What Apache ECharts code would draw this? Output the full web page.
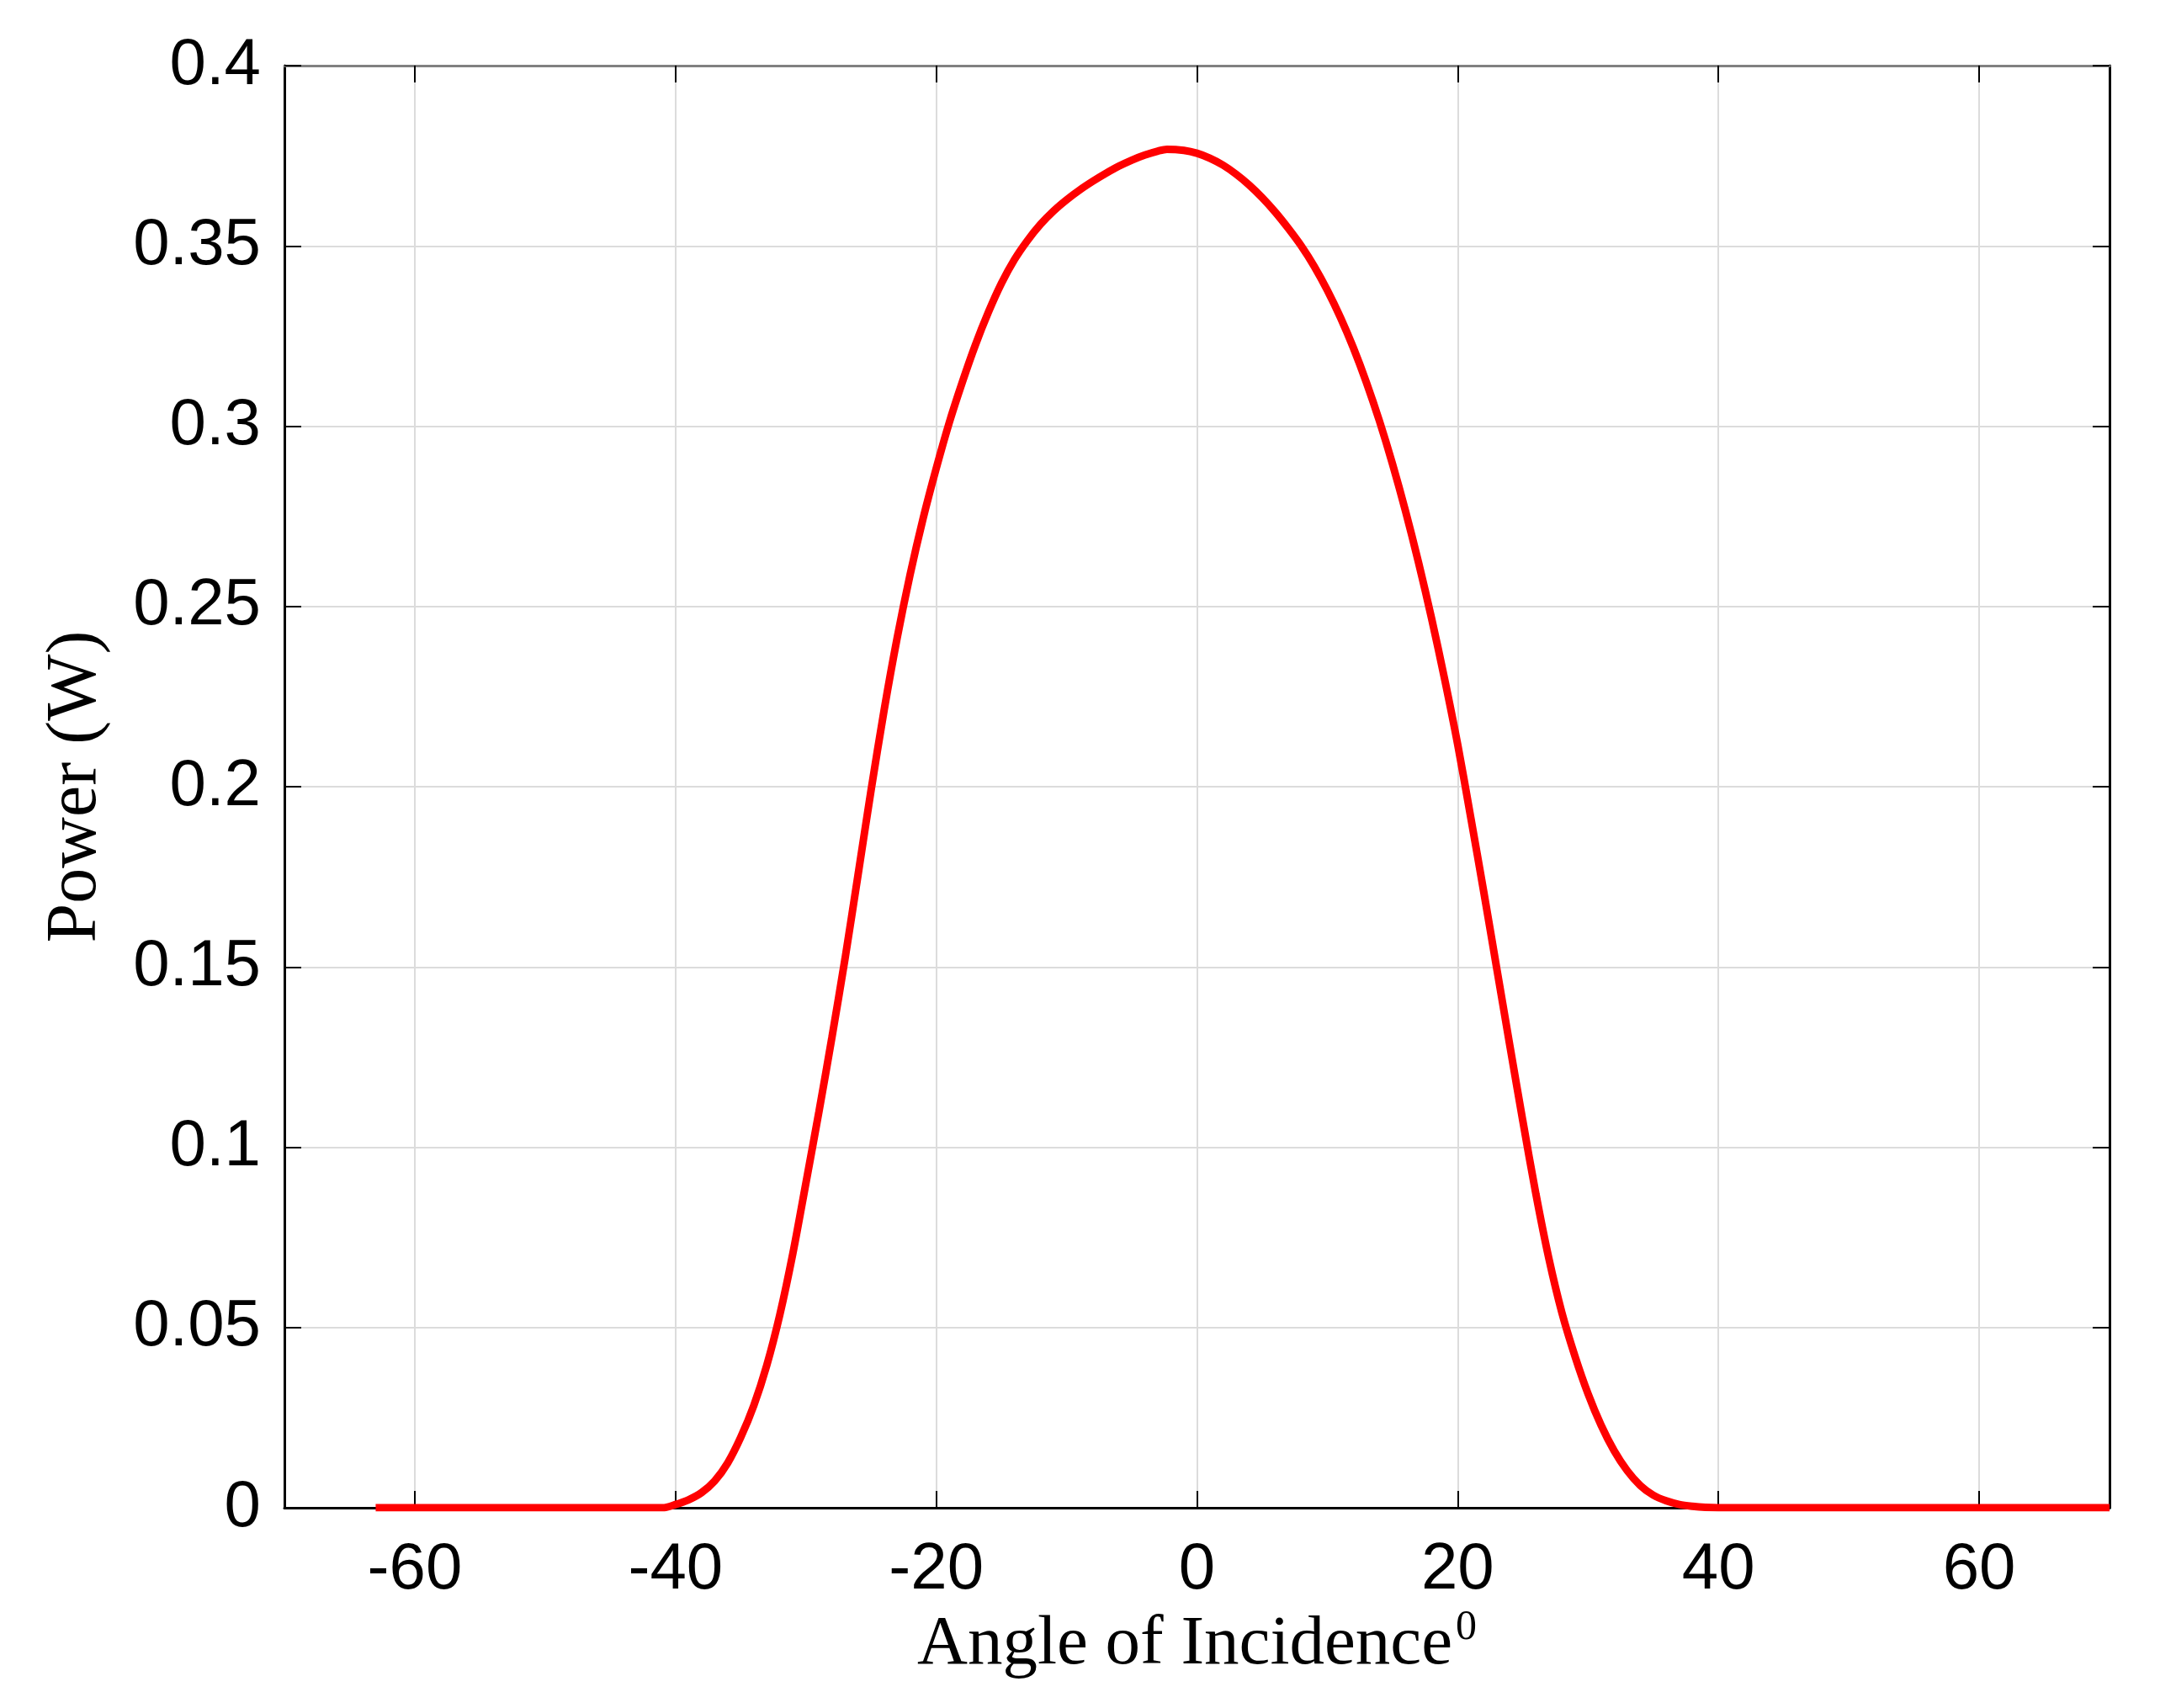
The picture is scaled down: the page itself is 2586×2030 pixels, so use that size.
<!DOCTYPE html>
<html>
<head>
<meta charset="utf-8">
<script src="https://cdn.jsdelivr.net/npm/echarts@6/dist/echarts.min.js"></script>
<style>
html,body{margin:0;padding:0;background:#fff;}
#chart{width:2586px;height:2030px;}
</style>
</head>
<body>
<div id="chart"></div>
<script>
// Angle of incidence (degrees)
const angles = [-63, -50, -41, -40, -39, -38, -37, -36, -35, -34, -33, -32, -31, -30,
  -29, -28, -27, -26, -25, -24, -23, -22, -21, -20,
  -19, -18, -17, -16, -15, -14, -13, -12, -11, -10,
  -9, -8, -7, -6, -5, -4, -3, -2.3, -1, 0,
  1, 2, 3, 4, 5, 6, 7, 8, 9, 10,
  11, 12, 13, 14, 15, 16, 17, 18, 19, 20,
  21, 22, 23, 24, 25, 26, 27, 28, 29, 30,
  31, 32, 33, 34, 35, 36, 37, 38, 39, 40,
  55, 70];
// Power (W)
const power = [0, 0, 0, 0.0009, 0.0022, 0.0042, 0.0074, 0.0124, 0.0195, 0.0283, 0.0395, 0.0535, 0.0705, 0.0900,
  0.1098, 0.1305, 0.1522, 0.1755, 0.1990, 0.2212, 0.2412, 0.2589, 0.2745, 0.2883,
  0.3010, 0.3122, 0.3225, 0.3316, 0.3396, 0.3462, 0.3515, 0.3560, 0.3597, 0.3628,
  0.3655, 0.3679, 0.3701, 0.3721, 0.3738, 0.3752, 0.3763, 0.3768, 0.3765, 0.3757,
  0.3743, 0.3724, 0.3699, 0.3669, 0.3634, 0.3594, 0.3549, 0.3500, 0.3443, 0.3377,
  0.3302, 0.3217, 0.3121, 0.3014, 0.2895, 0.2764, 0.2621, 0.2466, 0.2298, 0.2117,
  0.1915, 0.1708, 0.1495, 0.1282, 0.1072, 0.0870, 0.0690, 0.0540, 0.0420, 0.0316,
  0.0229, 0.0158, 0.0103, 0.0062, 0.0035, 0.0019, 0.0009, 0.0004, 0.0001, 0,
  0, 0];
// Tick values
const xTicks = [-60, -40, -20, 0, 20, 40, 60];
const xRange = [-70, 70];
const yRange = [0, 0.4];
const yStep = 0.05;

const xTitle = 'Angle of Incidence';
const xTitleSup = '0';
const yTitle = 'Power (W)';

const chart = echarts.init(document.getElementById('chart'), null, {renderer: 'canvas'});
const labelFont = 'Liberation Sans, Arial, Helvetica, sans-serif';
const serifFont = 'Liberation Serif, Times New Roman, serif';

const tickStyle = {show: true, inside: true, length: 20, lineStyle: {color: '#000', width: 2}};
const gridLine = {show: true, lineStyle: {color: '#dcdcdc', width: 2}};

const option = {
  backgroundColor: '#fff',
  animation: false,
  grid: {left: 338, right: 79, top: 78, bottom: 238, containLabel: false},
  xAxis: [{
    type: 'value', position: 'bottom', min: xRange[0], max: xRange[1],
    axisLine: {show: true, onZero: false, lineStyle: {color: '#000', width: 3}},
    axisTick: Object.assign({}, tickStyle, {customValues: xTicks}),
    axisLabel: {show: true, customValues: xTicks, margin: 35, color: '#000', fontFamily: labelFont, fontSize: 78},
    splitLine: gridLine,
    name: '{a|' + xTitle + '}{s|' + xTitleSup + '}',
    nameLocation: 'middle', nameGap: 118,
    nameTextStyle: {
      color: '#000',
      rich: {
        a: {fontFamily: serifFont, fontSize: 83, lineHeight: 90, color: '#000'},
        s: {fontFamily: serifFont, fontSize: 50, lineHeight: 90, verticalAlign: 'top', padding: [0, 0, 46, 4], color: '#000'}
      }
    }
  }, {
    type: 'value', position: 'top', min: xRange[0], max: xRange[1],
    axisLine: {show: true, onZero: false, lineStyle: {color: '#808080', width: 3}},
    axisTick: Object.assign({}, tickStyle, {customValues: xTicks}),
    axisLabel: {show: false},
    splitLine: {show: false}
  }],
  yAxis: [{
    type: 'value', position: 'left', min: yRange[0], max: yRange[1], interval: yStep,
    axisLine: {show: true, onZero: false, lineStyle: {color: '#000', width: 3}},
    axisTick: tickStyle,
    axisLabel: {show: true, margin: 28, color: '#000', fontFamily: labelFont, fontSize: 78},
    splitLine: gridLine,
    name: yTitle, nameLocation: 'middle', nameGap: 205,
    nameTextStyle: {color: '#000', fontFamily: serifFont, fontSize: 84}
  }, {
    type: 'value', position: 'right', min: yRange[0], max: yRange[1], interval: yStep,
    axisLine: {show: true, onZero: false, lineStyle: {color: '#000', width: 3}},
    axisTick: tickStyle,
    axisLabel: {show: false},
    splitLine: {show: false}
  }],
  series: [{
    type: 'line',
    xAxisIndex: 0, yAxisIndex: 0,
    data: angles.map((a, i) => [a, power[i]]),
    showSymbol: false,
    smooth: 0.3,
    lineStyle: {color: '#ff0000', width: 9},
    itemStyle: {color: '#ff0000'},
    z: 5
  }]
};
chart.setOption(option);
</script>
</body>
</html>
